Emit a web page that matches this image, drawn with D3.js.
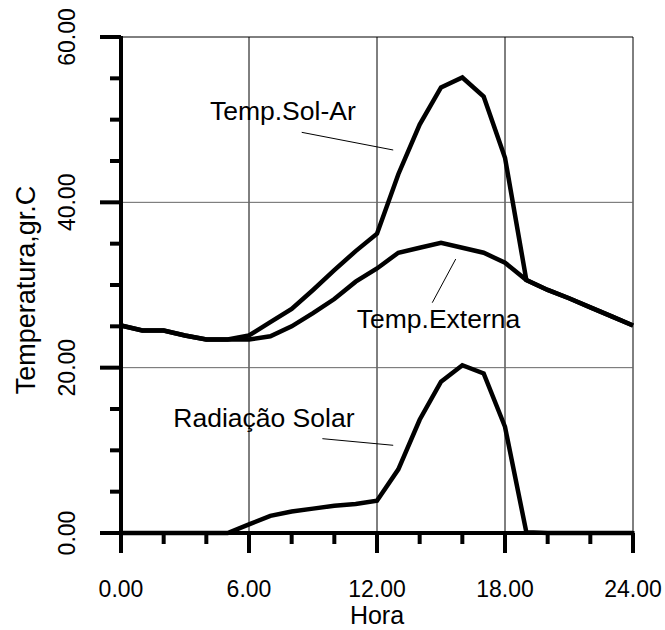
<!DOCTYPE html>
<html><head><meta charset="utf-8">
<script src="https://cdn.jsdelivr.net/npm/d3@7"></script>
<style>html,body{margin:0;padding:0;background:#fff}svg{display:block}text{font-family:Arial,"Liberation Sans",sans-serif;fill:#000}</style>
</head><body>
<script>
// ---- data ----
const hours = [0,1,2,3,4,5,6,7,8,9,10,11,12,13,14,15,16,17,18,19,20,21,22,23,24];
const tempSolAr = [25.1,24.5,24.5,23.9,23.4,23.4,23.9,25.5,27.1,29.4,31.8,34.1,36.2,43.4,49.4,53.9,55.1,52.8,45.4,30.6,29.4,28.4,27.3,26.2,25.1];
const tempExterna = [25.1,24.5,24.5,23.9,23.4,23.4,23.4,23.8,25.0,26.6,28.3,30.4,32.0,33.9,34.5,35.1,34.5,33.9,32.7,30.6,29.4,28.4,27.3,26.2,25.1];
const radiacaoSolar = [0,0,0,0,0,0,1.05,2.07,2.6,2.95,3.3,3.5,3.9,7.7,13.7,18.3,20.3,19.3,12.85,0.1,0,0,0,0,0];
const xMajorTicks = [0,6,12,18,24];
const xMinorTicks = [2,4,8,10,14,16,20,22];
const yMajorTicks = [0,20,40,60];
const yMinorTicks = [5,10,15,25,30,35,45,50,55];
const xTitle = "Hora";
const yTitle = "Temperatura,gr.C";
const labels = ["Temp.Sol-Ar","Temp.Externa","Radiação Solar"];

// ---- layout ----
const W = 665, H = 630;
const x = d3.scaleLinear().domain([0,24]).range([121,633]);
const y = d3.scaleLinear().domain([0,60]).range([533,37]);
const svg = d3.select("body").append("svg").attr("width",W).attr("height",H);

// grid
svg.append("g").selectAll("line").data(xMajorTicks.slice(1)).join("line")
  .attr("x1",d=>x(d)).attr("x2",d=>x(d)).attr("y1",y(0)).attr("y2",y(60))
  .attr("stroke","#000").attr("stroke-width",1);
svg.append("g").selectAll("line").data(yMajorTicks.slice(1)).join("line")
  .attr("x1",x(0)).attr("x2",x(24)).attr("y1",d=>y(d)).attr("y2",d=>y(d))
  .attr("stroke",d=>d===60?"#000":"#666").attr("stroke-width",1);

// series
const line = d3.line().x((d,i)=>x(hours[i])).y(d=>y(d));
[tempExterna,tempSolAr,radiacaoSolar].forEach(s=>{
  svg.append("path").attr("d",line(s)).attr("fill","none")
    .attr("stroke","#000").attr("stroke-width",4.5).attr("stroke-linejoin","miter");
});

// axes
const axW = 4;
svg.append("line").attr("x1",x(0)).attr("x2",x(0)).attr("y1",y(60)-1).attr("y2",553)
  .attr("stroke","#000").attr("stroke-width",axW);
svg.append("line").attr("x1",x(0)).attr("x2",x(24)+1.5).attr("y1",y(0)).attr("y2",y(0))
  .attr("stroke","#000").attr("stroke-width",axW);
svg.append("g").selectAll("line").data(xMajorTicks).join("line")
  .attr("x1",d=>x(d)).attr("x2",d=>x(d)).attr("y1",y(0)).attr("y2",553)
  .attr("stroke","#000").attr("stroke-width",axW);
svg.append("g").selectAll("line").data(xMinorTicks).join("line")
  .attr("x1",d=>x(d)).attr("x2",d=>x(d)).attr("y1",y(0)).attr("y2",544)
  .attr("stroke","#000").attr("stroke-width",axW);
svg.append("g").selectAll("line").data(yMajorTicks).join("line")
  .attr("x1",100).attr("x2",x(0)).attr("y1",d=>y(d)).attr("y2",d=>y(d))
  .attr("stroke","#000").attr("stroke-width",axW);
svg.append("g").selectAll("line").data(yMinorTicks).join("line")
  .attr("x1",110).attr("x2",x(0)).attr("y1",d=>y(d)).attr("y2",d=>y(d))
  .attr("stroke","#000").attr("stroke-width",axW);

const fmt = d3.format(".2f");
svg.append("g").selectAll("text").data(xMajorTicks).join("text")
  .attr("x",d=>x(d)).attr("y",597).attr("text-anchor","middle")
  .style("font-size","23px").text(fmt);
svg.append("g").selectAll("text").data(yMajorTicks).join("text")
  .attr("transform",d=>`translate(75,${y(d)}) rotate(-90)`).attr("text-anchor","middle")
  .style("font-size","23px").text(fmt);
svg.append("text").attr("x",(x(0)+x(24))/2).attr("y",624).attr("text-anchor","middle")
  .style("font-size","25px").text(xTitle);
svg.append("text").attr("transform",`translate(35,${(y(0)+y(60))/2+5}) rotate(-90)`)
  .attr("text-anchor","middle").style("font-size","27px").text(yTitle);

// annotations (in data units)
const ann = [
  {t:labels[0], tx:4.17, ty:49.96, l:[[8.47,48.47],[12.76,46.33]]},
  {t:labels[1], tx:11.05, ty:24.8, l:[[14.59,27.86],[15.69,33.14]]},
  {t:labels[2], tx:2.45, ty:12.79, l:[[9.44,11.41],[12.76,10.61]]}
];
ann.forEach(a=>{
  svg.append("text").attr("x",x(a.tx)).attr("y",y(a.ty)).style("font-size","26.5px").text(a.t);
  svg.append("line").attr("x1",x(a.l[0][0])).attr("y1",y(a.l[0][1]))
    .attr("x2",x(a.l[1][0])).attr("y2",y(a.l[1][1])).attr("stroke","#000").attr("stroke-width",1);
});
</script>
</body></html>
